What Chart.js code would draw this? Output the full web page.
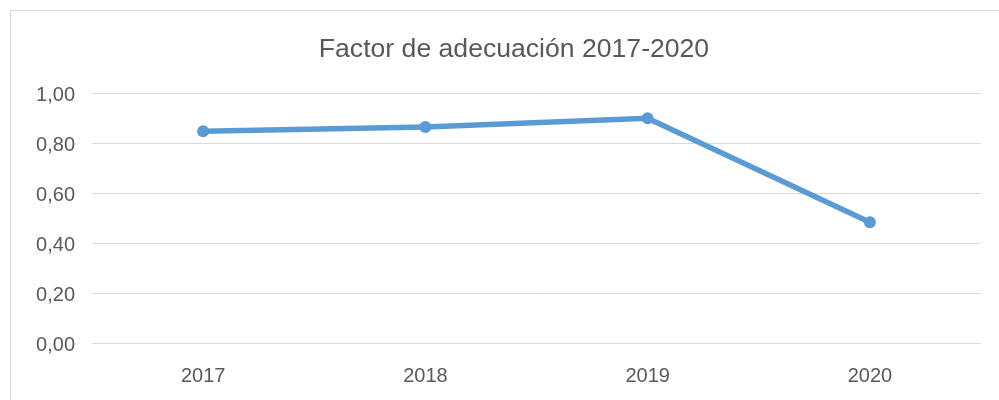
<!DOCTYPE html>
<html>
<head>
<meta charset="utf-8">
<script src="https://cdn.jsdelivr.net/npm/chart.js@4/dist/chart.umd.min.js"></script>
<style>
  html, body { margin: 0; padding: 0; background: #ffffff; overflow: hidden; width: 999px; height: 400px; }
  #wrap { position: absolute; left: 10px; top: 10px; width: 1008px; height: 400px; border: 1px solid #d9d9d9; box-sizing: border-box; background: #fff; }
  canvas { display: block; }
</style>
</head>
<body>
<div id="wrap"><canvas id="c" width="1006" height="398"></canvas></div>
<script>
const chartTitle = 'Factor de adecuación 2017-2020';
const categories = ['2017', '2018', '2019', '2020'];
const factorValues = [0.85, 0.867, 0.902, 0.485];
const yTickValues = [0, 0.2, 0.4, 0.6, 0.8, 1.0];
const yTickLabels = ['0,00', '0,20', '0,40', '0,60', '0,80', '1,00'];

const lineColor = '#5b9bd5';
const textColor = '#595959';
const gridColor = '#d9d9d9';

new Chart(document.getElementById('c'), {
  type: 'line',
  data: {
    labels: categories,
    datasets: [{
      label: chartTitle,
      data: factorValues,
      borderColor: lineColor,
      backgroundColor: lineColor,
      borderWidth: 5.5,
      pointRadius: 6,
      pointHoverRadius: 6,
      pointBackgroundColor: lineColor,
      pointBorderWidth: 0,
      tension: 0,
      fill: false,
      yAxisID: 'y'
    }]
  },
  options: {
    responsive: false,
    animation: false,
    devicePixelRatio: 1,
    layout: { padding: 0 },
    plugins: {
      legend: { display: false },
      tooltip: { enabled: false },
      title: {
        display: true,
        text: chartTitle,
        color: textColor,
        font: { family: '"Liberation Sans", Arial, sans-serif', size: 26.6, weight: 'normal' },
        padding: { top: 23, bottom: 28 }
      }
    },
    scales: {
      x: {
        type: 'category',
        offset: true,
        grid: { display: false, drawTicks: false },
        border: { display: false },
        ticks: {
          color: textColor,
          font: { family: '"Liberation Sans", Arial, sans-serif', size: 20 },
          padding: 21
        },
        afterFit: (s) => { s.height = 66; }
      },
      y: {
        min: 0,
        max: 1,
        grid: { color: gridColor, lineWidth: 1, drawTicks: false },
        border: { display: false },
        afterBuildTicks: (s) => { s.ticks = yTickValues.map(v => ({ value: v })); },
        ticks: {
          color: textColor,
          font: { family: '"Liberation Sans", Arial, sans-serif', size: 20 },
          padding: 17,
          labelOffset: 2,
          callback: (v) => {
            const i = yTickValues.findIndex(t => Math.abs(t - v) < 1e-9);
            return i >= 0 ? yTickLabels[i] : '';
          }
        },
        afterFit: (s) => { s.width = 81; }
      },
      yRight: {
        position: 'right',
        min: 0,
        max: 1,
        grid: { display: false, drawTicks: false },
        border: { display: false },
        ticks: { display: false },
        afterFit: (s) => { s.width = 36; }
      }
    }
  }
});
</script>
</body>
</html>
